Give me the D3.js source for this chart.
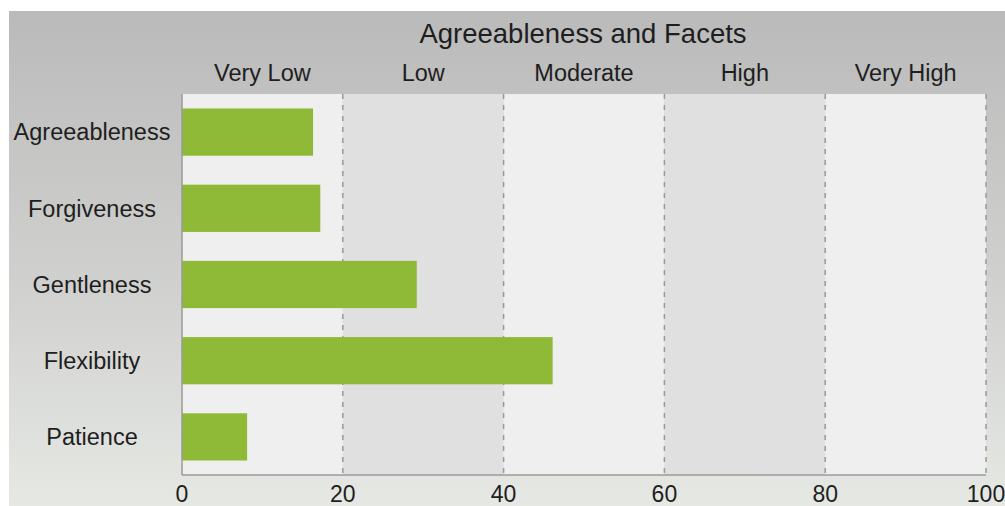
<!DOCTYPE html>
<html lang="en">
<head>
<meta charset="UTF-8">
<title>Agreeableness and Facets</title>
<script src="https://cdnjs.cloudflare.com/ajax/libs/d3/7.8.5/d3.min.js"></script>
<style>
    body {
        margin: 0;
        background: #ffffff;
        font-family: 'Liberation Sans', Arial, sans-serif;
    }
    svg { display: block; }
    text { fill: #1e1e1e; }
</style>
</head>
<body>
<div id="chart"></div>
<script>
// data
const facets = ["Agreeableness", "Forgiveness", "Gentleness", "Flexibility", "Patience"];
const scores = [16.3, 17.2, 29.2, 46.1, 8.1];
const levels = ["Very Low", "Low", "Moderate", "High", "Very High"];
const levelEdges = [0, 20, 40, 60, 80, 100];
const ticks = [0, 20, 40, 60, 80, 100];

const W = 1005, H = 506;
const margin = { top: 94, right: 19, bottom: 31, left: 182 };

const svg = d3.select("#chart")
    .append("svg")
    .attr("width", W)
    .attr("height", H);

// background gradient
const defs = svg.append("defs");
const grad = defs.append("linearGradient")
    .attr("id", "bg")
    .attr("x1", 0).attr("y1", 0).attr("x2", 0).attr("y2", 1);
grad.append("stop").attr("offset", "0%").attr("stop-color", "#bababa");
grad.append("stop").attr("offset", "55%").attr("stop-color", "#d0d1cf");
grad.append("stop").attr("offset", "100%").attr("stop-color", "#e6e8e4");

svg.append("rect")
    .attr("x", 9).attr("y", 11)
    .attr("width", W - 9).attr("height", H - 11)
    .attr("fill", "url(#bg)");

const x = d3.scaleLinear()
    .domain([0, 100])
    .range([margin.left, W - margin.right]);

const y = d3.scaleBand()
    .domain(facets)
    .range([margin.top, H - margin.bottom])
    .paddingInner(0.38)
    .paddingOuter(0.19);

const plotTop = margin.top, plotBottom = H - margin.bottom;

// alternating level bands
svg.append("g")
    .selectAll("rect")
    .data(levels)
    .join("rect")
    .attr("x", (d, i) => x(levelEdges[i]))
    .attr("y", plotTop)
    .attr("width", (d, i) => x(levelEdges[i + 1]) - x(levelEdges[i]))
    .attr("height", plotBottom - plotTop)
    .attr("fill", (d, i) => i % 2 ? "#e0e0e0" : "#efefef");

// level labels on top
svg.append("g")
    .selectAll("text")
    .data(levels)
    .join("text")
    .attr("x", (d, i) => (x(levelEdges[i]) + x(levelEdges[i + 1])) / 2)
    .attr("y", 81)
    .attr("text-anchor", "middle")
    .style("font-size", "23.5px")
    .text(d => d);

// dashed grid lines
svg.append("g")
    .selectAll("line")
    .data(ticks.filter(t => t > 0))
    .join("line")
    .attr("x1", d => x(d)).attr("x2", d => x(d))
    .attr("y1", plotTop).attr("y2", plotBottom)
    .attr("stroke", "#999")
    .attr("stroke-width", 1.5)
    .attr("stroke-dasharray", "5,6");

// bars
svg.append("g")
    .selectAll("rect")
    .data(facets)
    .join("rect")
    .attr("x", x(0))
    .attr("y", d => y(d))
    .attr("width", (d, i) => x(scores[i]) - x(0))
    .attr("height", y.bandwidth())
    .attr("fill", "#8fba38");

// axis lines
svg.append("line")
    .attr("x1", x(0)).attr("x2", x(0))
    .attr("y1", plotTop).attr("y2", plotBottom)
    .attr("stroke", "#9a9a9a").attr("stroke-width", 1.5);
svg.append("line")
    .attr("x1", x(0)).attr("x2", x(100))
    .attr("y1", plotBottom).attr("y2", plotBottom)
    .attr("stroke", "#9a9a9a").attr("stroke-width", 1.5);

// x tick labels
svg.append("g")
    .selectAll("text")
    .data(ticks)
    .join("text")
    .attr("x", d => x(d))
    .attr("y", 502)
    .attr("text-anchor", "middle")
    .style("font-size", "23px")
    .text(d => d);

// y category labels
svg.append("g")
    .selectAll("text")
    .data(facets)
    .join("text")
    .attr("x", 92)
    .attr("y", d => y(d) + y.bandwidth() / 2)
    .attr("dy", "0.35em")
    .attr("text-anchor", "middle")
    .style("font-size", "23.5px")
    .text(d => d);

// title
svg.append("text")
    .attr("x", 583)
    .attr("y", 43)
    .attr("text-anchor", "middle")
    .style("font-size", "27.5px")
    .text("Agreeableness and Facets");
</script>
</body>
</html>
